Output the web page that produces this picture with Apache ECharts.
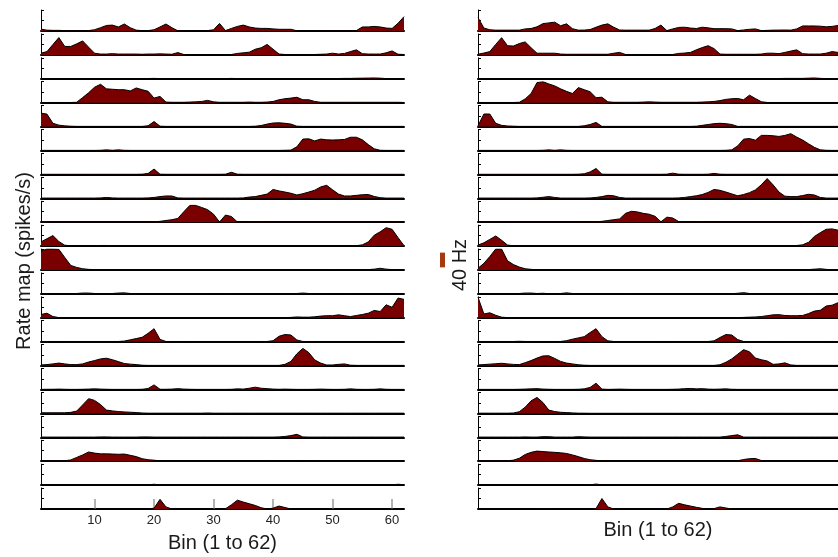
<!DOCTYPE html>
<html>
<head>
<meta charset="utf-8">
<script src="https://cdn.jsdelivr.net/npm/echarts@6/dist/echarts.min.js"></script>
<style>
html, body { margin: 0; padding: 0; background: #ffffff; }
#chart { width: 838px; height: 557px; }
</style>
</head>
<body>
<div id="chart"></div>
<script>
// Firing-rate maps, spikes/s per spatial bin (bins 1..62), one array per cell.
// Left panel
const L01 = [5,2.3,1.7,1.7,1.1,1.1,0.6,0.6,1.1,3.4, 9,15,16,11,19,9,2.3,1.1,1.1,3.4, 11,19,9,0.6,0.6,0.6,1.1,1.1,1.1,3.4, 20.5,1.1,7,12.5,16,11,8,7,7,5.7, 4.6,4.6,4.6,0.6,0.3,0.3,0.3,0.3,0.6,1.1, 1.1,0.6,0.6,1.1,11,11,12.5,11,8,7, 21,39];
const L02 = [4.6,9,28,47,23,23,30,38,21,4.6, 2.3,2.3,3.4,2.3,2.3,2.3,2.3,1.7,2.3,2.3, 2.8,2.3,1.7,6.3,1.1,0.6,0.6,0.6,0.6,0.6, 0.6,0.6,1.1,4,5.7,7.4,15.4,19.4,28.5,15.4, 2.3,1.1,1.1,1.1,1.1,1.1,1.1,1.7,2.3,4.6, 2.3,4,9,13.7,3.4,2.3,2.3,2.3,5.7,10.8, 1.8,1.1];
const L03 = [0.3,0.3,0.3,0.3,0.3,0.3,0.3,0.3,0.3,0.3, 0.3,0.3,0.3,0.3,0.3,0.3,0.3,0.6,0.8,1.1, 0.6,0.3,0.3,0.3,0.3,0.3,0.3,0.3,0.3,0.3, 0.3,0.6,1.1,0.6,0.3,0.3,0.3,0.3,0.3,0.3, 0.3,0.3,0.3,0.3,0.3,0.3,0.3,0.3,0.6,0.6, 0.8,1.1,1.1,1.5,1.7,2,2.3,1.7,0.6,0.3, 0.3,0.3];
const L04 = [0.6,0.6,0.6,0.6,0.6,0.6,1.1,14,27,42, 50,37.6,36.5,35.3,35.3,32,40,35.3,31,12.5, 17,1.7,1.1,1.1,1.1,1.7,2.3,3.4,6.3,2.3, 1.1,1.1,1.1,1.1,1.1,1.7,1.1,1.1,1.7,3.4, 8,10.8,12.5,14.8,8,8,3.4,1.1,1.1,1.1, 1.1,1.1,1.1,1.1,1.1,1.1,1.1,1.1,1.1,1.1, 1.1,0.6];
const L05 = [36.5,34,9,4,2,1.1,0.6,0.6,0.6,0.6, 0.6,0.6,0.6,0.6,0.6,0.6,0.6,0.6,2.3,13.7, 1.1,0.6,0.6,0.6,0.6,0.6,0.6,0.6,0.6,0.6, 0.6,0.6,0.6,0.6,0.6,0.6,1.1,3,6.8,9.7, 10.3,9,6.8,1.1,0.6,0.6,0.6,0.6,0.6,0.6, 0.6,0.6,0.6,0.6,0.6,0.6,0.6,0.6,0.6,0.6, 0.6,0.6];
const L06 = [0.3,0.3,0.3,0.3,0.3,0.3,0.3,0.3,0.3,0.3, 0.6,1.7,0.6,1.7,0.6,0.3,0.3,0.3,0.3,0.3, 0.3,0.3,0.3,0.3,0.3,0.3,0.3,0.3,0.3,0.3, 0.3,0.3,0.3,0.3,0.3,0.3,0.3,0.3,0.3,0.3, 0.3,0.6,1.1,10,31,31.7,26,31,29,28.5, 29,30,36,36,29,16,4.6,0.6,0.3,0.3, 0.3,0.3];
const L07 = [0.3,0.3,0.3,0.3,0.3,0.3,0.3,0.3,0.3,0.3, 0.3,0.3,0.3,0.3,0.3,0.3,0.3,0.6,2.7,14.5, 0.6,0.3,0.3,0.3,0.3,0.3,0.3,0.3,0.3,0.3, 0.3,0.6,5.7,0.6,0.3,0.3,0.3,0.3,0.3,0.3, 0.3,0.3,0.3,0.3,0.3,0.3,0.3,0.3,0.3,0.3, 0.3,0.3,0.3,0.3,0.3,0.3,0.3,0.3,0.3,0.3, 0.3,0.3];
const L08 = [0.6,0.6,0.6,0.6,0.6,0.6,0.6,0.6,0.6,0.6, 1.1,2.3,1.1,0.6,0.6,0.6,0.6,0.6,1.1,2.3, 4.6,6.3,6.3,1.1,0.6,0.6,0.6,0.6,0.6,0.6, 0.6,0.6,0.6,0.6,1.1,3.4,4.6,8,11.4,24, 20,17,13.7,9,12.5,17,22,30.8,35.3,23, 11.4,6.3,6.3,8,9.7,10.3,5,1.7,0.6,0.6, 0.6,0.6];
const L09 = [0.3,0.3,0.3,0.3,0.3,0.3,0.3,0.3,0.3,0.3, 0.3,0.3,0.3,0.3,0.3,0.3,0.3,0.3,0.6,1.1, 2.3,4.6,6.8,10.3,28.5,45.6,45.6,40,34,21.7, 0.6,19.4,15.4,0.6,0.6,0.6,1.1,1.1,0.6,0.3, 0.3,0.3,0.3,0.3,0.3,0.3,0.3,0.3,0.3,0.3, 0.3,0.3,0.3,0.3,0.3,0.3,0.3,0.3,0.3,0.6, 1.1,0.6];
const L10 = [11.4,20,28.5,12.5,2.3,1.1,0.6,0.6,0.6,1.1, 1.7,1.7,1.1,0.6,0.6,0.6,0.6,0.6,0.6,0.6, 0.6,0.6,0.6,0.6,0.6,0.6,0.6,0.6,0.6,0.6, 0.6,0.6,0.6,0.6,0.6,0.6,0.6,0.6,0.6,0.6, 0.6,0.6,0.6,0.6,0.6,0.6,0.6,0.6,0.6,0.6, 0.6,0.6,0.6,1.1,3.4,11.4,29.6,38.8,50,45.6, 23,1.1];
const L11 = [51,57,57,56,34,12.5,7,3.4,1.7,1.1, 0.6,0.6,0.6,0.6,0.6,0.6,0.6,0.6,0.6,0.6, 0.6,0.6,0.6,0.6,0.6,0.6,0.6,0.6,0.6,0.6, 0.6,0.6,0.6,0.6,0.6,0.6,0.6,0.6,0.6,0.6, 0.6,0.6,0.6,0.6,0.6,0.6,0.6,0.6,0.6,1.1, 0.6,0.6,0.6,0.6,0.6,1.1,2.3,4.6,2.3,1.1, 0.6,0.6];
const L12 = [0.6,0.6,0.6,0.6,0.6,0.6,1.1,2.3,2.3,1.1, 0.6,0.6,1.1,2.3,2.8,1.1,0.6,0.6,0.6,0.6, 0.6,0.6,0.6,0.6,0.6,0.6,0.6,0.6,0.6,0.6, 0.6,0.6,0.6,0.6,0.6,0.6,0.6,0.6,0.6,0.6, 0.6,0.6,0.6,1.1,2.3,1.1,0.6,0.6,0.6,0.6, 0.6,0.6,0.6,0.6,0.6,0.6,0.6,0.6,0.6,0.6, 0.6,0.6];
const L13 = [9,12.5,3.4,0.6,0.3,0.3,0.3,0.3,0.3,0.3, 0.3,0.3,0.3,0.3,0.3,0.3,0.3,0.3,0.3,0.3, 0.3,0.3,0.3,0.3,0.3,0.3,0.3,0.3,0.3,0.3, 0.3,0.3,0.3,0.3,0.3,0.3,0.3,0.3,0.3,0.3, 0.3,0.6,1.1,2.3,1.7,1.7,2.8,4.6,5.7,5.7, 8,5.7,3.4,6.3,9,12.5,20,17,35.3,28.5, 53.6,50];
const L14 = [0.6,0.6,0.6,0.6,0.6,0.6,0.6,0.6,0.6,0.6, 0.6,0.6,0.6,0.6,1.7,5,8.5,12,22.8,35.3, 6.3,0.6,0.6,0.6,0.6,0.6,0.6,0.6,0.6,0.6, 0.6,0.6,0.6,0.6,0.6,0.6,0.6,0.6,0.6,2.7, 14.8,19.4,18.2,4.6,0.6,0.6,0.6,0.6,0.6,0.6, 0.6,0.6,0.6,0.6,0.6,0.6,0.6,0.6,0.6,0.6, 0.6,0.6];
const L15 = [1.7,2.8,4.6,6.8,4.6,2.7,2.7,4.6,9.7,13.7, 18.2,20,16,10.8,5.7,4,2.7,1.1,0.6,0.6, 0.6,0.6,0.6,0.6,0.6,0.6,0.6,0.6,0.6,0.6, 0.6,0.6,0.6,0.6,0.6,0.6,0.6,0.6,0.6,0.6, 0.6,3.4,11.4,32,46.7,35.3,15.4,6.8,1.7,1.7, 3.4,4.6,1.1,0.6,0.6,0.6,0.6,0.6,0.6,0.6, 0.6,0.6];
const L16 = [0.3,0.6,0.6,1.1,0.6,0.3,0.3,0.6,1.1,1.7, 1.1,0.6,0.3,0.3,0.3,0.3,0.3,0.6,2.7,12.5, 0.6,0.6,1.1,2.3,1.1,0.6,0.3,0.3,0.3,0.3, 0.3,0.3,0.6,1.7,1.1,3.4,6.3,3.4,2.3,1.1, 0.6,1.1,0.6,0.3,0.3,0.3,0.6,1.1,0.6,0.3, 0.3,0.6,1.7,0.6,0.3,0.3,0.6,1.7,0.6,0.3, 0.3,0.3];
const L17 = [1.7,1.7,1.7,1.7,1.7,2.8,6.3,23,40,35.3, 24,9,6.8,5,4,3.2,2.3,1.1,0.6,0.6, 0.6,0.6,0.6,0.6,0.6,0.6,0.6,0.6,1.1,0.6, 0.6,0.6,0.6,0.6,0.6,0.6,0.6,0.6,0.6,0.6, 0.6,0.6,0.6,0.6,0.6,0.6,0.6,0.6,0.6,0.6, 0.6,0.6,0.6,0.6,0.6,0.6,0.6,0.6,0.6,0.6, 0.6,0.6];
const L18 = [0.6,0.6,0.6,0.6,0.6,0.6,0.6,0.6,0.6,0.6, 1.1,1.1,0.6,0.6,0.6,0.6,0.6,1.1,1.1,0.6, 0.6,0.6,0.6,0.6,0.6,0.6,0.6,0.6,0.6,0.6, 0.6,0.6,0.6,0.6,0.6,0.6,0.6,0.6,0.6,0.6, 1.1,2.3,4.6,8,1.1,0.6,0.6,0.6,0.6,0.6, 0.6,0.6,0.6,0.6,0.6,0.6,0.6,0.6,0.6,0.6, 0.6,0.6];
const L19 = [1.1,1.1,1.1,1.1,1.1,3.4,10.3,17,25,22, 20,20,19.4,18.8,19.4,16,12.5,6.8,4,2.7, 1.1,0.6,0.6,0.6,0.6,0.6,0.6,0.6,0.6,0.6, 0.6,0.6,0.6,0.6,0.6,0.6,0.6,0.6,1.1,0.6, 0.6,0.6,0.6,1.1,0.6,0.6,1.1,0.6,0.6,0.6, 0.6,0.6,0.6,0.6,0.6,0.6,0.6,0.6,0.6,0.6, 0.6,0.6];
const L20 = [0.3,0.3,0.3,0.3,0.3,0.3,0.3,0.3,0.3,0.3, 0.3,0.3,0.3,0.3,0.3,0.3,0.3,0.3,0.6,2.3, 0.6,0.3,0.3,0.3,0.3,0.3,0.3,0.3,0.3,0.3, 0.3,0.3,0.3,0.3,0.3,0.3,0.3,0.3,0.3,0.3, 0.3,0.3,0.3,0.3,0.3,0.3,0.3,0.3,0.3,0.3, 0.3,0.3,0.3,0.3,0.3,0.3,0.3,0.3,0.3,0.6, 2.3,1.1];
const L21 = [0,0,0,0,0,0,0,0,0,0, 0,0,0,0,0,0,0,0,0,2.3, 26.2,5.7,0,0,0,0,0,0,0,0, 0,0.6,11.4,24,18.8,14.3,9.7,3.4,0,2.3, 8,4,0,0,0,0,0,0,0,0, 0,0,0,0,0,0,0,0,0,0, 0,0];

// Right panel
const R01 = [36.5,8,3.4,2.3,2.3,2.3,2.3,2.3,5.7,6.8, 11.4,20,22,24,14.3,19.4,6.3,2.3,2.5,4, 10.3,16,19.4,10.3,2.7,2.3,2.3,2.3,2.3,2.3, 6.8,16,1.1,5.7,9.7,10.3,8,6.8,10.3,8.5, 6.3,6.3,6.3,5.7,1.1,2.8,4.6,5.7,1.1,1.7, 2.3,2.5,2.7,2.3,5.7,13.7,13.7,13.7,13,11.4, 12.5,15];
const R02 = [1.8,5,9,28.5,46.7,25,24,30.8,35.3,19.4, 4.6,4.6,4.6,4.6,2.3,1.7,1.7,1.7,1.7,1.7, 1.7,1.7,1.7,4.6,6.8,1.1,1.1,1.1,1.1,1.1, 1.1,1.1,1.1,1.1,4,5,6.8,13.7,20,25, 17,2.3,1.7,1.7,1.7,1.7,1.7,1.7,2.3,4.6, 4.6,3.4,6.8,10.3,13.7,3.4,2.3,2.3,2.3,4.6, 9,6.8];
const R03 = [0.3,0.3,0.3,0.3,0.3,0.3,0.3,0.3,0.3,0.3, 0.3,0.3,0.3,0.3,0.3,0.3,0.3,0.3,0.3,0.3, 0.3,0.3,0.3,0.3,0.3,0.3,0.3,0.3,0.3,0.3, 0.3,0.3,0.3,0.3,0.3,0.3,0.3,0.3,0.3,0.3, 0.3,0.3,0.3,0.3,0.3,0.3,0.3,0.3,0.6,0.6, 0.6,0.8,1.1,1.1,1.1,1.1,1.7,2.3,1.1,0.6, 0.6,0.6];
const R04 = [0.6,0.6,0.6,0.6,0.6,0.6,0.6,1.1,10.3,25, 54.7,57,51,45.6,37.6,30.8,25,41,35.3,29.6, 13.7,14.8,2.3,1.1,1.1,1.1,1.1,1.1,1.7,2.3, 1.7,1.1,1.1,1.1,1.1,1.1,1.1,1.1,1.7,2.3, 3.4,5.7,9,10.8,11.4,8,20.5,11.4,2.7,0.6, 0.6,0.6,0.6,0.6,0.6,0.6,0.6,0.6,0.6,0.6, 0.6,0.6];
const R05 = [2.3,34.2,34.2,9,3.4,1.7,1.1,0.6,0.6,0.6, 0.6,0.6,0.6,0.6,0.6,0.6,0.6,0.6,2.3,5.7, 11.4,0.6,0.6,0.6,0.6,0.6,0.6,0.6,0.6,0.6, 0.6,0.6,0.6,0.6,0.6,0.6,0.6,1.1,3.4,5.7, 8,9,8,5.7,0.6,0.6,0.6,0.6,0.6,0.6, 0.6,0.6,0.6,0.6,0.6,0.6,0.6,0.6,0.6,0.6, 0.6,0.6];
const R06 = [0.3,0.3,0.3,0.3,0.3,0.3,0.3,0.3,0.3,0.3, 0.3,0.6,1.7,0.6,1.7,0.6,0.3,0.3,0.3,0.3, 0.3,0.3,0.3,0.3,0.3,0.3,0.3,0.3,0.3,0.3, 0.3,0.3,0.3,0.3,0.3,0.3,0.3,0.3,0.3,0.3, 0.3,0.3,0.6,1.7,12.5,30.8,32.5,28,41,41, 40,38.2,41,45.6,36.5,28.5,18.2,8.5,1.8,0.6, 0.3,0.3];
const R07 = [0.3,0.3,0.3,0.3,0.3,0.3,0.3,0.3,0.3,0.3, 0.3,0.3,0.3,0.3,0.3,0.3,0.3,0.6,1.7,6.8, 16,0.6,0.3,0.3,0.3,0.3,0.3,0.3,0.3,0.3, 0.3,0.3,0.6,3.4,0.6,0.3,0.3,0.3,0.3,0.6, 2.7,0.6,0.3,0.3,0.3,0.3,0.3,0.3,0.3,0.3, 0.3,0.3,0.3,0.3,0.3,0.3,0.3,0.3,0.3,0.3, 0.3,0.3];
const R08 = [0.6,0.6,0.6,0.6,0.6,0.6,0.6,0.6,0.6,0.6, 1.1,2.8,4.6,2.3,0.6,0.6,0.6,0.6,0.6,1.1, 2.3,4.6,8,6.8,2.3,0.6,0.6,0.6,0.6,0.6, 0.6,0.6,0.6,0.6,1.1,2.3,4.6,6.8,10.3,16, 24,21.7,17,12,6.8,10.3,15.4,22.8,36.5,53.6, 36.5,17,5.7,4.6,4.6,7.4,10.8,9,2.3,0.6, 0.6,0.6];
const R09 = [0.3,0.3,0.3,0.3,0.3,0.3,0.3,0.3,0.3,0.3, 0.3,0.3,0.3,0.3,0.3,0.3,0.3,0.3,0.6,0.6, 1.1,2.3,4.6,6.8,9,24,29.6,28,24,21.7, 16,1.1,13.7,11.4,1.7,0.6,0.6,0.6,1.1,0.6, 0.3,0.3,0.3,0.3,0.3,0.3,0.3,0.3,0.3,0.3, 0.3,0.3,0.3,0.3,0.3,0.3,0.3,0.3,0.3,0.3, 0.3,0.3];
const R10 = [2.7,9,18.2,27.4,16,2.8,1.1,0.6,0.6,0.6, 0.6,0.6,1.1,0.6,0.6,0.6,0.6,0.6,0.6,0.6, 0.6,0.6,0.6,0.6,0.6,0.6,0.6,0.6,0.6,0.6, 0.6,0.6,0.6,0.6,0.6,0.6,0.6,0.6,0.6,0.6, 0.6,0.6,0.6,0.6,0.6,0.6,0.6,0.6,0.6,0.6, 0.6,0.6,0.6,0.6,1.7,3.4,10.3,26.2,36.5,45.6, 46.7,43.3];
const R11 = [4.6,18.2,36.5,57,57,25,14.8,8,3.4,1.7, 0.6,0.6,0.6,0.6,0.6,0.6,0.6,0.6,0.6,0.6, 0.6,0.6,0.6,0.6,0.6,0.6,0.6,0.6,0.6,0.6, 0.6,0.6,0.6,0.6,0.6,0.6,0.6,0.6,0.6,0.6, 0.6,0.6,0.6,0.6,0.6,0.6,0.6,0.6,0.6,0.6, 0.6,0.6,0.6,0.6,0.6,0.6,1.1,2.3,3.4,1.7, 0.6,0.6];
const R12 = [0.6,0.6,0.6,0.6,0.6,0.6,0.6,1.1,2.3,2.3, 1.1,1.7,0.6,0.6,1.1,2.8,1.1,0.6,0.6,0.6, 0.6,0.6,0.6,0.6,0.6,0.6,0.6,0.6,0.6,0.6, 0.6,0.6,0.6,0.6,0.6,0.6,0.6,0.6,0.6,0.6, 0.6,0.6,0.6,0.6,1.7,3.4,1.1,0.6,0.6,0.6, 0.6,0.6,0.6,0.6,0.6,0.6,0.6,0.6,0.6,0.6, 0.6,0.6];
const R13 = [55.9,10.3,13.7,6.8,1.7,0.6,0.3,0.3,0.3,0.3, 0.3,0.3,0.3,0.3,0.3,0.3,0.3,0.3,0.3,0.3, 0.3,0.3,0.3,0.3,0.3,0.3,0.3,0.3,0.3,0.3, 0.3,0.3,0.3,0.3,0.3,0.3,0.3,0.3,0.3,0.3, 0.3,0.3,0.3,0.3,0.6,1.1,1.7,2.3,3.4,5.7, 8,8.5,6.3,5.7,5.7,6.3,11.4,18.2,20.5,32, 34.2,41];
const R14 = [0.6,0.6,0.6,0.6,0.6,0.6,0.6,1.1,0.6,0.6, 0.6,0.6,0.6,0.6,0.6,2.8,6.8,10.3,13.7,25, 35.3,13.7,2.3,0.6,0.6,0.6,0.6,0.6,0.6,0.6, 0.6,0.6,0.6,0.6,0.6,0.6,0.6,0.6,0.6,0.6, 2.3,11.4,19.4,18.2,5.7,0.6,0.6,0.6,0.6,0.6, 0.6,0.6,0.6,0.6,0.6,0.6,0.6,0.6,0.6,0.6, 0.6,0.6];
const R15 = [1.8,2.8,4,5,6.3,4.6,3.2,2.7,8,13.7, 20.5,26.2,26.8,19.4,11.4,6.8,4.6,2.3,1.1,0.6, 0.6,0.6,0.6,0.6,0.6,0.6,0.6,0.6,0.6,0.6, 0.6,0.6,0.6,0.6,0.6,0.6,0.6,0.6,0.6,0.6, 0.6,2.3,9,18.2,30.8,43.3,37.6,20.5,16,12.5, 3.4,4.6,7.4,1.8,0.6,0.6,0.6,0.6,0.6,0.6, 0.6,0.6];
const R16 = [0.3,0.3,0.3,0.3,0.3,0.3,0.3,0.6,1.1,1.7, 2.3,1.1,0.6,0.3,0.3,0.3,0.3,0.6,1.7,5.7, 17,1.1,0.3,0.6,1.1,0.6,0.3,0.3,0.3,0.3, 0.3,0.3,0.3,0.6,1.1,2.3,2.8,1.7,2.3,1.1, 0.6,1.1,1.7,0.6,0.3,0.3,0.3,0.3,0.3,0.3, 0.3,0.3,0.3,0.3,0.3,0.3,0.3,0.3,0.3,0.3, 0.3,0.3];
const R17 = [0.6,0.6,0.6,0.6,0.6,0.6,1.1,4.6,17,34.2, 43.3,29.6,9,5,3,2.3,1.4,0.6,0.6,0.3, 0.3,0.3,0.3,0.3,0.3,0.3,0.3,0.3,0.3,0.3, 0.3,0.3,0.3,0.3,0.3,0.3,0.3,0.3,0.3,0.3, 0.3,0.3,0.3,0.3,0.3,0.3,0.3,0.3,0.3,0.3, 0.3,0.3,0.3,0.3,0.3,0.3,0.3,0.3,0.3,0.3, 0.3,0.3];
const R18 = [0.6,0.6,0.6,0.6,0.6,0.6,0.6,0.6,1.1,0.6, 0.6,1.7,1.7,0.6,0.6,0.6,0.6,1.7,1.1,0.6, 0.6,0.6,0.6,0.6,0.6,0.6,0.6,0.6,0.6,0.6, 0.6,0.6,0.6,0.6,0.6,0.6,0.6,0.6,0.6,0.6, 0.6,0.6,2.3,4.6,6.8,0.6,0.6,0.6,0.6,0.6, 0.6,0.6,0.6,0.6,0.6,0.6,0.6,0.6,0.6,0.6, 0.6,0.6];
const R19 = [1.1,1.1,1.1,1.1,1.1,1.1,2.8,8,18.2,24, 27.4,26.2,25,24,22.8,21,17,12.5,7.4,4, 2.3,1.1,0.6,0.6,0.6,0.6,0.6,0.6,0.6,0.6, 0.6,0.6,0.6,0.6,0.6,0.6,0.6,0.6,0.6,0.6, 0.6,0.6,0.6,0.6,1.1,4.6,6.8,7.4,1.8,0.6, 0.6,0.6,0.6,0.6,0.6,0.6,0.6,0.6,0.6,0.6, 0.6,0.6];
const R20 = [0.3,0.3,0.3,0.3,0.3,0.3,0.3,0.3,0.3,0.3, 0.3,0.3,0.3,0.3,0.3,0.3,0.3,0.3,0.3,0.8, 2.8,0.6,0.3,0.3,0.3,0.3,0.3,0.3,0.3,0.3, 0.3,0.3,0.3,0.3,0.3,0.3,0.3,0.3,0.3,0.3, 0.3,0.3,0.3,0.3,0.3,0.3,0.3,0.3,0.3,0.3, 0.3,0.3,0.3,0.3,0.3,0.3,0.3,0.3,0.3,0.3, 0.3,0.3];
const R21 = [0,0,0,0,0,0,0,0,0,0, 0,1.1,0.6,0,0,0,0,0,0,0, 1.1,28.5,5.7,0,0,0,0,0,0,0, 0,0,0,5.7,15.4,11.4,8,4.6,1.7,0, 1.1,5.7,2.8,0,0,0,0,0,0,0, 0,0,0,0,0,0,0,0,0,0, 0,0];

const leftRows  = [L01,L02,L03,L04,L05,L06,L07,L08,L09,L10,L11,L12,L13,L14,L15,L16,L17,L18,L19,L20,L21];
const rightRows = [R01,R02,R03,R04,R05,R06,R07,R08,R09,R10,R11,R12,R13,R14,R15,R16,R17,R18,R19,R20,R21];

const binTicks = [10, 20, 30, 40, 50, 60];
const BIN_FIRST = 1, BIN_LAST = 62;
const RATE_MAX = 57;      // spikes/s at the top of every row
const SCALE_BAR_HZ = 40;
const xTitle = 'Bin (1 to 62)';
const yTitle = 'Rate map (spikes/s)';
const scaleTitle = '40 Hz';

const FONT = '"Liberation Sans", Arial, Helvetica, sans-serif';
const FILL = '#7a0000';

// layout of the stacked rows
const ROW_TOP = 10, ROW_STEP = 23.9, ROW_H = 21, PANEL_W = 363;
const panels = [
  { left: 41,  rows: leftRows,  labelled: true,  nameGap: 24 },
  { left: 478, rows: rightRows, labelled: false, nameGap: 11 }
];

const grids = [], xAxes = [], yAxes = [], series = [];
panels.forEach(function (p) {
  p.rows.forEach(function (row, ri) {
    const idx = grids.length;
    const last = ri === p.rows.length - 1;
    grids.push({ left: p.left, width: PANEL_W, top: ROW_TOP + ROW_STEP * ri, height: ROW_H });
    xAxes.push({
      gridIndex: idx, type: 'value', min: BIN_FIRST, max: BIN_LAST,
      axisLine: { show: true, onZero: false, lineStyle: { color: '#000', width: 2 } },
      axisTick: { show: last && p.labelled, inside: true, length: 10, customValues: binTicks,
                  lineStyle: { color: '#9a9a9a', width: 1.5 } },
      axisLabel: { show: last && p.labelled, customValues: binTicks, fontSize: 13, color: '#222',
                   margin: 5, fontFamily: FONT },
      splitLine: { show: false },
      name: last ? xTitle : '', nameLocation: 'middle', nameGap: p.nameGap,
      nameTextStyle: { fontSize: 20, color: '#1a1a1a', fontFamily: FONT }
    });
    yAxes.push({
      gridIndex: idx, type: 'value', min: 0, max: RATE_MAX, interval: RATE_MAX / 2,
      axisLine: { show: true, lineStyle: { color: '#000', width: 1 } },
      axisTick: { show: true, inside: true, length: 3, lineStyle: { color: '#000', width: 1 } },
      axisLabel: { show: false }, splitLine: { show: false }
    });
    series.push({
      type: 'line', xAxisIndex: idx, yAxisIndex: idx,
      data: row.map(function (v, i) { return [BIN_FIRST + i, v]; }),
      symbol: 'none', smooth: false, clip: true, silent: true,
      lineStyle: { color: '#000', width: 1 },
      areaStyle: { color: FILL, opacity: 1 }
    });
  });
});

const chart = echarts.init(document.getElementById('chart'), null, { renderer: 'canvas' });
chart.setOption({
  animation: false,
  backgroundColor: '#ffffff',
  grid: grids, xAxis: xAxes, yAxis: yAxes, series: series,
  graphic: [
    { type: 'text', x: 24, y: 261, rotation: Math.PI / 2,
      style: { text: yTitle, font: '20px ' + FONT, fill: '#1a1a1a', align: 'center', verticalAlign: 'middle' } },
    { type: 'text', x: 460, y: 265, rotation: Math.PI / 2,
      style: { text: scaleTitle, font: '20px ' + FONT, fill: '#1a1a1a', align: 'center', verticalAlign: 'middle' } }
  ]
});

// scale bar: its height is 40 spikes/s on the shared row scale
const y0 = chart.convertToPixel({ yAxisIndex: 10 }, 0);
const yBar = chart.convertToPixel({ yAxisIndex: 10 }, SCALE_BAR_HZ);
const barH = y0 - yBar;
chart.setOption({
  graphic: [
    { type: 'text', x: 24, y: 261, rotation: Math.PI / 2,
      style: { text: yTitle, font: '20px ' + FONT, fill: '#1a1a1a', align: 'center', verticalAlign: 'middle' } },
    { type: 'text', x: 460, y: 265, rotation: Math.PI / 2,
      style: { text: scaleTitle, font: '20px ' + FONT, fill: '#1a1a1a', align: 'center', verticalAlign: 'middle' } },
    { type: 'rect', shape: { x: 440, y: 260 - barH / 2, width: 5, height: barH },
      style: { fill: '#a5390f' } }
  ]
});
</script>
</body>
</html>
